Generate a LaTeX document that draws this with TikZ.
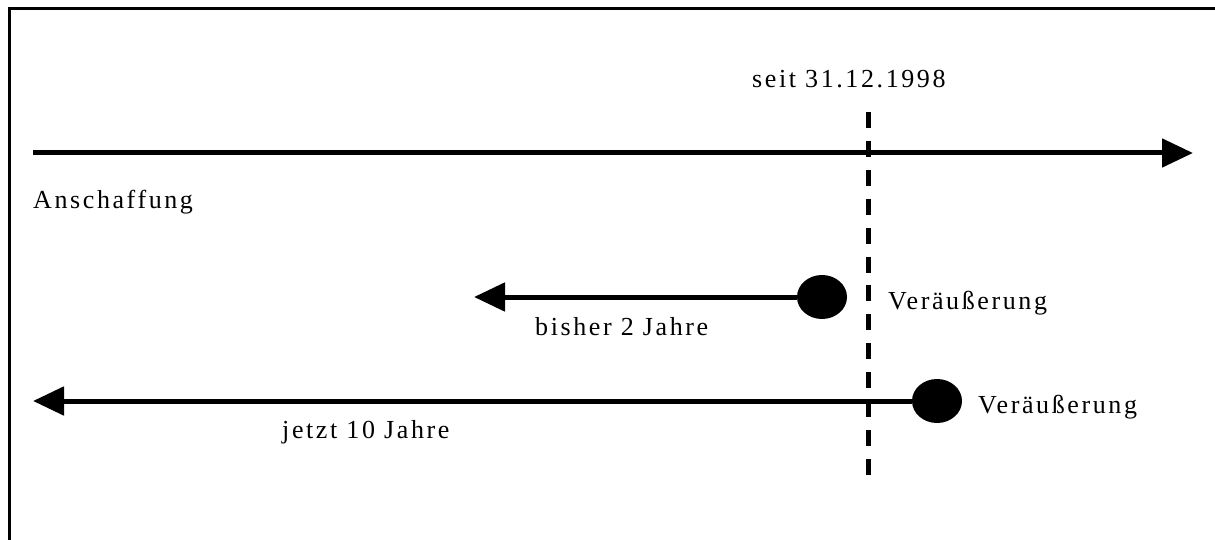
\documentclass[tikz,border=0pt]{standalone}
\usepackage{fontspec}
\setmainfont{Liberation Serif}[LetterSpace=10]
\usetikzlibrary{arrows.meta,shapes.geometric}
\begin{document}
\begin{tikzpicture}[x=1pt,y=-1pt,
  lbl/.style={anchor=base west,inner sep=0pt,font=\fontsize{26}{30}\selectfont},
  timeline/.style={line width=5pt,-{Triangle[length=31pt,width=28pt]}},
  dot/.style={ellipse,fill=black,minimum width=50pt,minimum height=44pt,inner sep=0pt},
  cutoff/.style={line width=5pt,dash pattern=on 16pt off 12.9pt},
  frame/.style={line width=3pt}]
\useasboundingbox (0,0) rectangle (1215,540);
% frame (top and left edges only)
\coordinate (fA) at (9,540);
\coordinate (fB) at (9,9);
\coordinate (fC) at (1215,9);
\draw[frame] (fA) -- (fB) -- (fC);
% main timeline
\coordinate (t0) at (33,153);
\coordinate (t1) at (1193,153);
\draw[timeline] (t0) -- (t1);
% cutoff date
\coordinate (c0) at (868,112);
\coordinate (c1) at (868,475);
\draw[cutoff] (c0) -- (c1);
\node[lbl] (seit) at (752,88) {seit 31.12.1998};
\node[lbl] (ansch) at (33,209) {Anschaffung};
% old rule
\node[dot] (d1) at (822,297) {};
\coordinate (e1) at (474,297);
\draw[timeline] (d1) -- (e1);
\node[lbl] (v1) at (888,309) {Veräußerung};
\node[lbl] (bisher) at (535,335) {bisher 2 Jahre};
% new rule
\node[dot] (d2) at (937,401) {};
\coordinate (e2) at (33,401);
\draw[timeline] (d2) -- (e2);
\node[lbl] (v2) at (978,413) {Veräußerung};
\node[lbl] (jetzt) at (282,438) {jetzt 10 Jahre};
\end{tikzpicture}
\end{document}
